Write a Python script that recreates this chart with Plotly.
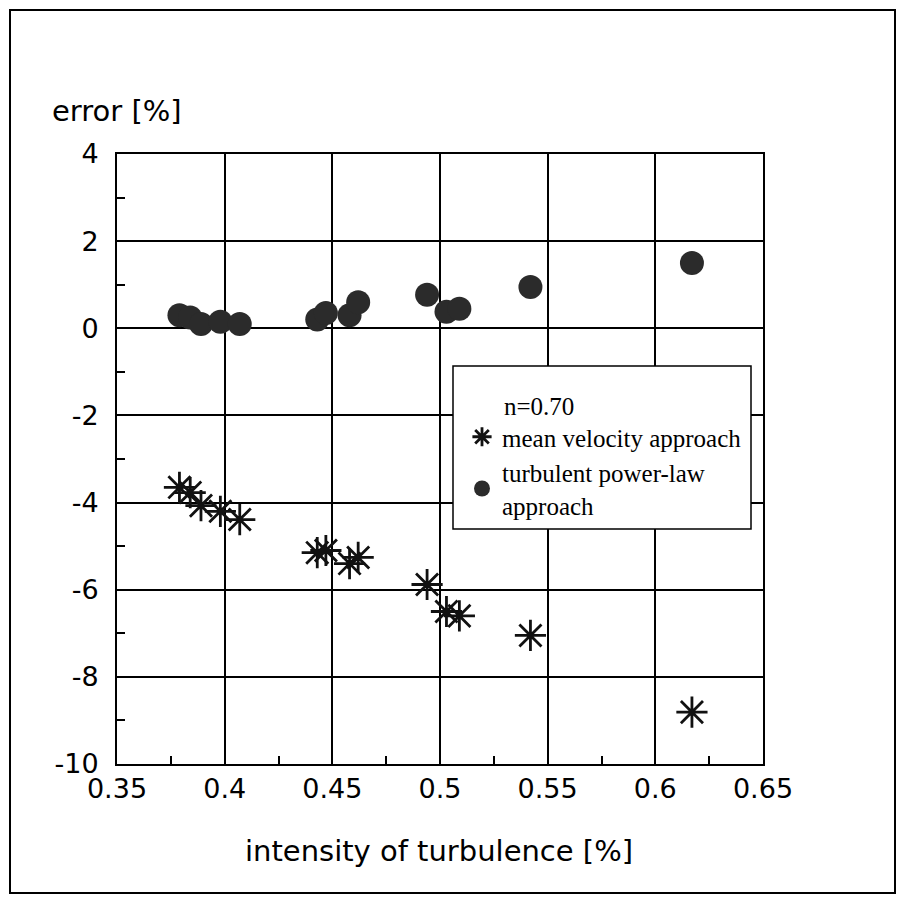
import plotly.graph_objects as go

# data
intensity = [0.379, 0.384, 0.389, 0.398, 0.407, 0.443, 0.447, 0.458, 0.462,
             0.494, 0.503, 0.509, 0.542, 0.617]
err_mean_velocity = [-3.65, -3.77, -4.07, -4.2, -4.39, -5.15, -5.1, -5.4, -5.26,
                     -5.88, -6.5, -6.6, -7.05, -8.81]
err_power_law = [0.3, 0.25, 0.1, 0.15, 0.1, 0.2, 0.35, 0.3, 0.6,
                 0.77, 0.38, 0.45, 0.95, 1.5]
x_ticks = [0.35, 0.4, 0.45, 0.5, 0.55, 0.6, 0.65]
x_tick_text = ["0.35", "0.4", "0.45", "0.5", "0.55", "0.6", "0.65"]
y_ticks = [4, 2, 0, -2, -4, -6, -8, -10]
y_tick_text = ["4", "2", "0", "-2", "-4", "-6", "-8", "-10"]

OFF = 8  # page body margin
W, H = 907 - OFF, 904 - OFF
L, T = 117 - OFF, 154 - OFF
R, B = W - (763 - OFF), H - (764 - OFF)
pw, ph = W - L - R, H - T - B

def px(xs):
    return (xs - OFF - L) / pw

def py(ys):
    return (H - B - (ys - OFF)) / ph

SANS = "DejaVu Sans, Arial"
SERIF = "Liberation Serif, Times New Roman"

fig = go.Figure()
fig.add_trace(go.Scatter(
    x=intensity, y=err_mean_velocity, mode="markers",
    name="mean velocity approach",
    marker=dict(symbol="asterisk-open", size=26, color="#111111",
                line=dict(width=2.8, color="#111111")),
))
fig.add_trace(go.Scatter(
    x=intensity, y=err_power_law, mode="markers",
    name="turbulent power-law<br>approach",
    marker=dict(symbol="circle", size=24, color="#2b2b2b",
                line=dict(width=0)),
))

axis_common = dict(
    showline=True, linecolor="black", linewidth=2, mirror=True,
    showgrid=True, gridcolor="black", gridwidth=1.6,
    ticks="inside", ticklen=0, zeroline=False,
    tickfont=dict(family=SANS, size=27, color="black"),
)
fig.update_xaxes(range=[0.35, 0.65], tickvals=x_ticks, ticktext=x_tick_text,
                 minor=dict(dtick=0.025, tick0=0.35, ticks="inside", ticklen=8,
                            tickcolor="black", tickwidth=1.5, showgrid=False),
                 ticklabelstandoff=0, **axis_common)
fig.update_yaxes(range=[-10, 4], tickvals=y_ticks, ticktext=y_tick_text,
                 minor=dict(dtick=1, tick0=0, ticks="inside", ticklen=8,
                            tickcolor="black", tickwidth=1.5, showgrid=False),
                 ticklabelstandoff=11, **axis_common)

shapes = [
    # outer frame
    dict(type="rect", xref="paper", yref="paper",
         x0=px(10), x1=px(895), y0=py(893), y1=py(10),
         line=dict(color="black", width=2), fillcolor="rgba(0,0,0,0)", layer="above"),
    # legend box
    dict(type="rect", xref="paper", yref="paper",
         x0=px(453), x1=px(751), y0=py(529), y1=py(366),
         line=dict(color="black", width=1.5), fillcolor="white", layer="above"),
]

annotations = [
    dict(text="error [%]", xref="paper", yref="paper", x=px(50), y=py(111),
         xanchor="left", yanchor="middle", showarrow=False,
         font=dict(family=SANS, size=29, color="black")),
    dict(text="intensity of turbulence [%]", xref="paper", yref="paper",
         x=px(439), y=py(851), xanchor="center", yanchor="middle", showarrow=False,
         font=dict(family=SANS, size=29, color="black")),
    dict(text="n=0.70", xref="paper", yref="paper", x=px(502), y=py(406),
         xanchor="left", yanchor="middle", showarrow=False,
         font=dict(family=SERIF, size=25, color="black")),
]

fig.update_layout(
    width=W, height=H,
    margin=dict(l=L, r=R, t=T, b=B),
    paper_bgcolor="white", plot_bgcolor="white",
    shapes=shapes, annotations=annotations,
    showlegend=True,
    legend=dict(x=px(462), y=py(414), xanchor="left", yanchor="top",
                bgcolor="rgba(0,0,0,0)", borderwidth=0,
                font=dict(family=SERIF, size=25, color="black"),
                tracegroupgap=0, itemsizing="trace"),
)

fig.write_html("out.html")
